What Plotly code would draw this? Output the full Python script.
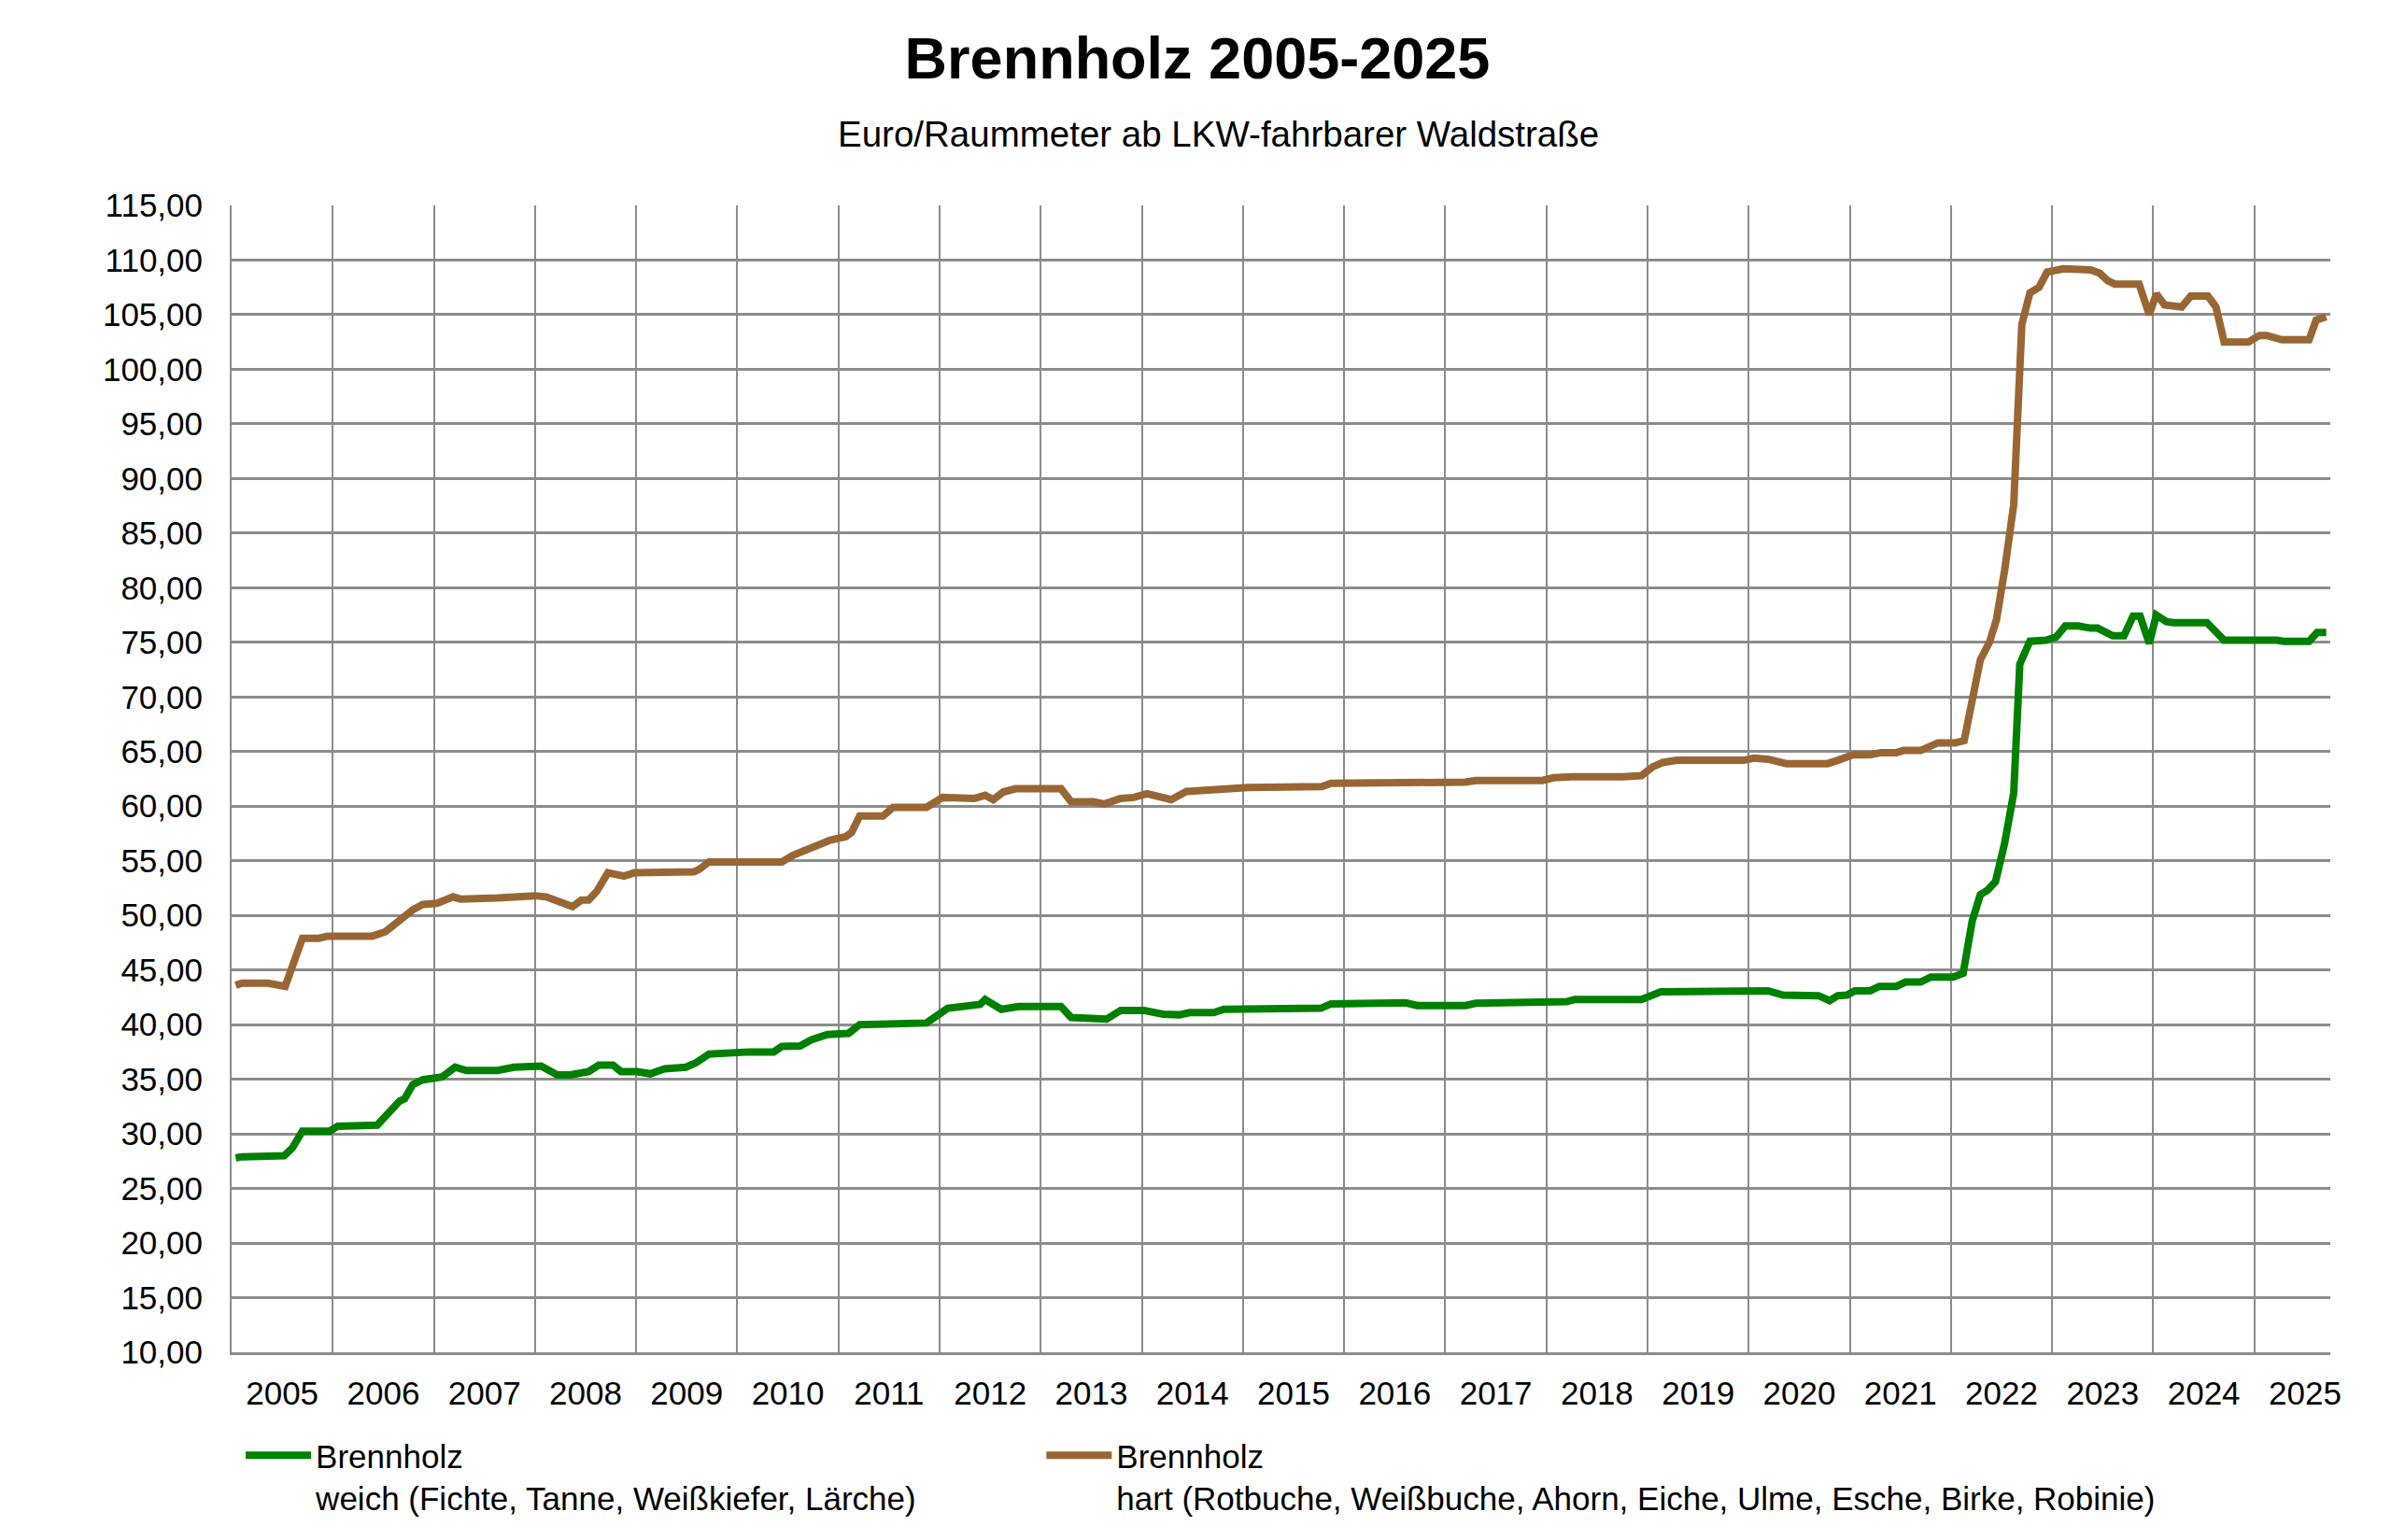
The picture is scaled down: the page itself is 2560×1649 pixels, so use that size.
import plotly.graph_objects as go

# Brennholz prices, Euro/Raummeter
# x = decimal year (month centres), y = price
years = list(range(2005, 2026))

weich_x = [2005.04, 2005.10, 2005.36, 2005.52, 2005.60, 2005.70, 2005.97, 2006.05, 2006.44, 2006.55,
           2006.66, 2006.71, 2006.79, 2006.89, 2007.08, 2007.21, 2007.32, 2007.63, 2007.79, 2008.06,
           2008.22, 2008.35, 2008.47, 2008.53, 2008.63, 2008.77, 2008.85, 2009.01, 2009.14, 2009.28,
           2009.49, 2009.59, 2009.72, 2009.86, 2010.12, 2010.36, 2010.44, 2010.62, 2010.73, 2010.89,
           2011.10, 2011.21, 2011.58, 2011.87, 2012.08, 2012.19, 2012.32, 2012.40, 2012.45, 2012.61,
           2012.78, 2013.20, 2013.30, 2013.54, 2013.65, 2013.79, 2014.02, 2014.21, 2014.37, 2014.47,
           2014.71, 2014.81, 2015.05, 2015.37, 2015.77, 2015.87, 2016.22, 2016.32, 2016.61, 2016.72,
           2017.20, 2017.30, 2017.96, 2018.07, 2018.20, 2018.28, 2018.94, 2019.13, 2019.95, 2020.19,
           2020.34, 2020.69, 2020.80, 2020.88, 2020.97, 2021.05, 2021.20, 2021.29, 2021.46, 2021.55,
           2021.70, 2021.80, 2022.02, 2022.12, 2022.21, 2022.29, 2022.36, 2022.44, 2022.53, 2022.62,
           2022.68, 2022.78, 2022.94, 2023.04, 2023.13, 2023.26, 2023.38, 2023.45, 2023.60, 2023.71,
           2023.80, 2023.87, 2023.96, 2024.03, 2024.13, 2024.20, 2024.53, 2024.70, 2025.22, 2025.29,
           2025.54, 2025.62, 2025.71]
weich_y = [27.8, 27.9, 27.95, 28.0, 28.7, 30.25, 30.25, 30.7, 30.8, 31.8,
           33.0, 33.2, 34.5, 34.95, 35.2, 36.1, 35.8, 35.8, 36.1, 36.2,
           35.4, 35.4, 35.7, 35.7, 36.3, 36.3, 35.7, 35.7, 35.5, 35.95,
           36.1, 36.5, 37.3, 37.4, 37.5, 37.5, 38.0, 38.05, 38.6, 39.1,
           39.2, 40.0, 40.1, 40.15, 41.5, 41.6, 41.85, 41.85, 42.3, 41.4,
           41.65, 41.65, 40.65, 40.65, 40.5, 41.3, 41.3, 40.95, 40.9, 41.1,
           41.1, 41.4, 41.4, 41.5, 41.5, 41.9, 41.9, 42.0, 42.0, 41.75,
           41.75, 41.95, 41.95, 42.1, 42.1, 42.3, 42.3, 43.0, 43.0, 43.1,
           42.7, 42.65, 42.2, 42.65, 42.7, 43.1, 43.1, 43.5, 43.5, 43.9,
           43.9, 44.35, 44.35, 44.7, 49.5, 51.9, 52.3, 53.1, 56.6, 61.2,
           73.0, 75.1, 75.2, 75.5, 76.5, 76.5, 76.3, 76.3, 75.6, 75.6,
           77.4, 77.4, 74.9, 77.5, 76.9, 76.8, 76.8, 75.2, 75.2, 75.1,
           75.1, 75.9, 75.9]

hart_x = [2005.04, 2005.10, 2005.36, 2005.47, 2005.53, 2005.70, 2005.86, 2005.95, 2006.39, 2006.52,
          2006.64, 2006.79, 2006.89, 2007.03, 2007.19, 2007.26, 2007.63, 2007.74, 2008.00, 2008.11,
          2008.37, 2008.46, 2008.53, 2008.61, 2008.72, 2008.88, 2008.98, 2009.57, 2009.62, 2009.72,
          2010.44, 2010.55, 2010.73, 2010.92, 2011.07, 2011.13, 2011.21, 2011.44, 2011.54, 2011.87,
          2012.03, 2012.34, 2012.45, 2012.53, 2012.63, 2012.75, 2013.20, 2013.30, 2013.52, 2013.63,
          2013.79, 2013.92, 2014.05, 2014.18, 2014.29, 2014.44, 2014.71, 2014.87, 2015.05, 2015.37,
          2015.78, 2015.87, 2016.22, 2016.32, 2017.20, 2017.30, 2017.96, 2018.07, 2018.25, 2018.76,
          2018.94, 2019.05, 2019.15, 2019.29, 2019.95, 2020.05, 2020.19, 2020.37, 2020.78, 2020.88,
          2021.03, 2021.20, 2021.31, 2021.46, 2021.53, 2021.70, 2021.80, 2021.87, 2022.04, 2022.13,
          2022.21, 2022.29, 2022.38, 2022.45, 2022.53, 2022.62, 2022.70, 2022.78, 2022.87, 2022.95,
          2023.11, 2023.28, 2023.38, 2023.47, 2023.55, 2023.62, 2023.86, 2023.96, 2024.03, 2024.11,
          2024.28, 2024.37, 2024.54, 2024.62, 2024.70, 2024.94, 2025.05, 2025.12, 2025.27, 2025.54,
          2025.61, 2025.71]
hart_y = [43.6, 43.8, 43.8, 43.5, 43.5, 47.9, 47.9, 48.1, 48.1, 48.5,
          49.4, 50.5, 51.0, 51.1, 51.7, 51.5, 51.6, 51.7, 51.8, 51.7,
          50.8, 51.4, 51.4, 52.2, 53.9, 53.6, 53.9, 54.0, 54.2, 54.9,
          54.9, 55.5, 56.2, 56.9, 57.2, 57.6, 59.1, 59.1, 59.9, 59.9,
          60.8, 60.7, 61.0, 60.6, 61.3, 61.6, 61.6, 60.4, 60.4, 60.2,
          60.7, 60.8, 61.15, 60.9, 60.6, 61.35, 61.4, 61.6, 61.7, 61.8,
          61.8, 62.1, 62.1, 62.2, 62.2, 62.35, 62.35, 62.6, 62.7, 62.7,
          62.8, 63.6, 64.0, 64.2, 64.2, 64.4, 64.3, 63.9, 63.9, 64.2,
          64.7, 64.7, 64.9, 64.9, 65.1, 65.1, 65.6, 65.8, 65.8, 66.0,
          69.7, 73.4, 75.0, 77.1, 81.6, 87.6, 104.1, 107.0, 107.5, 108.9,
          109.2, 109.2, 109.1, 108.8, 108.1, 107.8, 107.8, 105.0, 106.9, 105.9,
          105.7, 106.7, 106.7, 105.7, 102.5, 102.5, 103.1, 103.1, 102.7, 102.7,
          104.5, 104.8]

font = "Liberation Sans, Arial, sans-serif"
grid = "#8c8c8c"

fig = go.Figure()
fig.add_trace(go.Scatter(x=weich_x, y=weich_y, mode="lines", legend="legend",
                         name="Brennholz<br>weich (Fichte, Tanne, Weißkiefer, Lärche)",
                         line=dict(color="#008000", width=8)))
fig.add_trace(go.Scatter(x=hart_x, y=hart_y, mode="lines", legend="legend2",
                         name="Brennholz<br>hart (Rotbuche, Weißbuche, Ahorn, Eiche, Ulme, Esche, Birke, Robinie)",
                         line=dict(color="#996633", width=8)))

leg = dict(orientation="h", xanchor="left", y=-0.066, yanchor="top", valign="top",
           itemwidth=70, font=dict(size=35, family=font), bgcolor="rgba(0,0,0,0)")

fig.update_layout(
    width=2560, height=1649,
    paper_bgcolor="white", plot_bgcolor="white",
    margin=dict(l=240, r=73, t=212, b=209),
    separators=",.",
    font=dict(family=font, size=35, color="black"),
    title=dict(text="<b>Brennholz 2005-2025</b>", x=(1282 - 8) / 2560, xanchor="center",
               y=1 - 54 / 1649, yanchor="middle", font=dict(size=63, family=font)),
    showlegend=True,
    legend=dict(leg, x=0.0045),
    legend2=dict(leg, x=0.386),
)
fig.add_annotation(text="Euro/Raummeter ab LKW-fahrbarer Waldstraße", xref="paper", yref="paper",
                   x=0.4704, y=1.062, xanchor="center", yanchor="middle", showarrow=False,
                   font=dict(size=38.5, family=font))

fig.update_xaxes(
    range=[2005, 2025.75],
    tickmode="array", tickvals=[y + 0.5 for y in years], ticktext=[str(y) for y in years],
    showgrid=False, zeroline=False, ticks="", ticklabelstandoff=11,
    showline=True, linecolor=grid, linewidth=3,
    minor=dict(tickmode="array", tickvals=years, showgrid=True, gridcolor=grid, gridwidth=2, ticks=""),
)
fig.update_yaxes(
    range=[10, 115], tick0=10, dtick=5, tickformat=".2f",
    showgrid=True, gridcolor=grid, gridwidth=3, zeroline=False, ticks="",
    ticklabelstandoff=22, showline=True, linecolor=grid, linewidth=2,
)

fig.write_html("out.html")
